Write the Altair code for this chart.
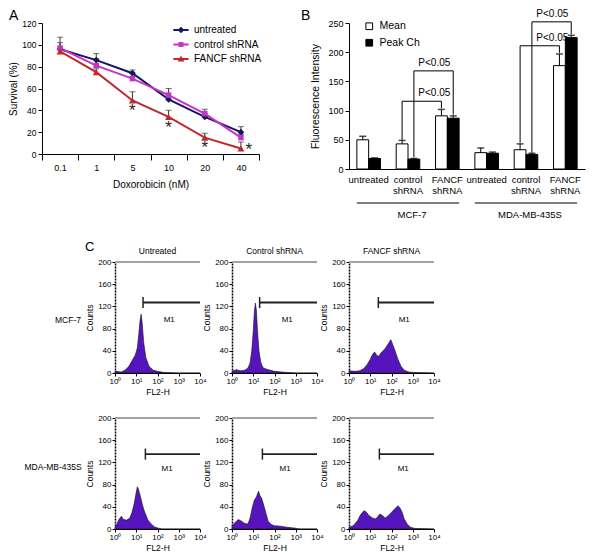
import altair as alt
import pandas as pd

FONT = "Liberation Sans"

# ================= Panel A: survival vs doxorubicin =================
doses = ["0.1", "1", "5", "10", "20", "40"]
series_names = ["untreated", "control shRNA", "FANCF shRNA"]
survival_untreated = [96, 86, 74, 50, 34, 20]
survival_control = [97, 81, 69, 54, 37, 15]
survival_fancf = [94, 75, 49, 34, 15, 5]
error_untreated = [6, 6, 3, 3, 3, 5]
error_control = [10, 6, 2, 6, 4, 3]
error_fancf = [3, 3, 8, 6, 4, 6]
star_doses = ["5", "10", "20"]
star_values = [40, 25, 6]
star_side_doses = ["40"]
star_side_values = [5]
survival_ticks = [0, 20, 40, 60, 80, 100, 120]

# ================= Panel B: fluorescence intensity =================
cell_lines = ["MCF-7", "MDA-MB-435S"]
treatments = ["untreated", "control shRNA", "FANCF shRNA"]
measures = ["Mean", "Peak Ch"]
mean_values = [50, 43, 91, 28, 33, 177]
mean_errors = [6, 6, 11, 8, 10, 20]
peak_values = [18, 17, 87, 27, 25, 225]
peak_errors = [1, 1, 4, 2, 2, 4]
bracket_cells = ["MCF-7", "MCF-7", "MDA-MB-435S", "MDA-MB-435S"]
bracket_measures = ["Mean", "Peak Ch", "Mean", "Peak Ch"]
bracket_tops = [116, 168, 211, 252]
bracket_left_ends = [50, 20, 45, 28]
bracket_right_ends = [104, 93, 199, 231]
bracket_labels = ["P<0.05", "P<0.05", "P<0.05", "P<0.05"]
intensity_ticks = [0, 50, 100, 150, 200, 250]

# ================= Panel C: flow cytometry histograms =================
column_titles = ["Untreated", "Control shRNA", "FANCF shRNA"]
row_labels = ["MCF-7", "MDA-MB-435S"]
decades = [0, 1, 2, 3, 4]
superscripts = ["⁰", "¹", "²", "³", "⁴"]
count_ticks = [0, 40, 80, 120, 160, 200]

mcf_untreated_x = [0.0, 0.3, 0.5, 0.65, 0.8, 0.95, 1.05, 1.12, 1.18, 1.23, 1.28, 1.35, 1.45, 1.6, 1.8, 2.0, 2.3, 3.0, 4.0]
mcf_untreated_y = [3, 2, 6, 12, 22, 32, 45, 70, 95, 106, 90, 55, 28, 12, 5, 3, 1, 0, 0]
mcf_control_x = [0.0, 0.2, 0.4, 0.6, 0.75, 0.85, 0.93, 1.0, 1.05, 1.1, 1.15, 1.2, 1.27, 1.35, 1.45, 1.6, 1.8, 2.0, 2.3, 2.6, 3.0, 4.0]
mcf_control_y = [3, 6, 4, 5, 9, 18, 40, 75, 110, 126, 112, 75, 40, 20, 10, 7, 5, 3, 2, 1, 0, 0]
mcf_fancf_x = [0.0, 0.3, 0.5, 0.7, 0.85, 1.0, 1.1, 1.2, 1.3, 1.4, 1.5, 1.6, 1.7, 1.8, 1.9, 1.97, 2.05, 2.15, 2.3, 2.45, 2.6, 2.8, 3.0, 4.0]
mcf_fancf_y = [4, 3, 4, 8, 15, 25, 33, 38, 32, 30, 36, 40, 44, 50, 56, 60, 52, 42, 25, 12, 5, 2, 1, 0]
mda_untreated_x = [0.0, 0.1, 0.2, 0.3, 0.4, 0.55, 0.7, 0.8, 0.9, 0.98, 1.05, 1.1, 1.2, 1.3, 1.4, 1.55, 1.7, 1.85, 2.0, 2.2, 4.0]
mda_untreated_y = [3, 10, 18, 23, 17, 16, 20, 30, 45, 62, 76, 72, 58, 42, 30, 16, 9, 4, 2, 0, 0]
mda_control_x = [0.0, 0.15, 0.3, 0.45, 0.6, 0.75, 0.85, 0.95, 1.05, 1.15, 1.25, 1.32, 1.4, 1.5, 1.6, 1.7, 1.85, 2.0, 2.3, 2.6, 2.9, 3.2, 4.0]
mda_control_y = [6, 12, 17, 14, 10, 9, 20, 38, 52, 58, 68, 60, 55, 42, 28, 14, 8, 6, 5, 3, 2, 0, 0]
mda_fancf_x = [0.0, 0.2, 0.4, 0.55, 0.7, 0.8, 0.95, 1.1, 1.25, 1.35, 1.45, 1.55, 1.7, 1.85, 2.0, 2.15, 2.3, 2.4, 2.5, 2.6, 2.75, 2.9, 3.1, 4.0]
mda_fancf_y = [3, 6, 15, 26, 33, 31, 24, 20, 18, 22, 27, 25, 20, 24, 30, 36, 42, 38, 30, 18, 8, 3, 1, 0]

m1_starts = [[1.32, 1.3, 1.38], [1.43, 1.43, 1.43]]
m1_levels = [127, 135]
m1_label_x = [[2.55, 2.6, 2.6], [2.45, 2.5, 2.55]]
m1_label_y = [95, 108]

# ================= styles =================
A_COLORS = ["#16165e", "#c634c6", "#c0282c"]
A_SHAPES = ["diamond", "square", "triangle-up"]
A_SIZES = [46, 30, 50]
BAR = "M-2.6,-0.32L2.6,-0.32L2.6,0.32L-2.6,0.32Z "
LEGEND_PATHS = [
    BAR + "M0,-1.15L1.15,0L0,1.15L-1.15,0Z",
    BAR + "M-0.85,-0.85L0.85,-0.85L0.85,0.85L-0.85,0.85Z",
    BAR + "M0,-1.2L1.15,0.85L-1.15,0.85Z",
]
PURPLE = "#5514bc"
A_WIDTH, A_HEIGHT = 217, 131
B_WIDTH, B_HEIGHT = 236, 146
AB_SPACING = 90
SPACER_WIDTH = 41


def text_layer(label, x, y, size, align="center"):
    return alt.Chart(pd.DataFrame({"t": [label]})).mark_text(
        fontSize=size, align=align, baseline="middle", color="black"
    ).encode(text="t:N", x=alt.value(x), y=alt.value(y))


# ---------------- Panel A ----------------
rows = []
for s, vals, errs in zip(series_names,
                         [survival_untreated, survival_control, survival_fancf],
                         [error_untreated, error_control, error_fancf]):
    for i, (d, v, e) in enumerate(zip(doses, vals, errs)):
        rows.append({"series": s, "dose": d, "idx": i, "value": v, "top": v + e})
df_a = pd.DataFrame(rows)

x_axis_a = alt.Axis(title="Doxorobicin (nM)", labelAngle=0, tickBand="extent", tickSize=6,
                    labelPadding=3, labelFontSize=9, titleFontSize=10, titlePadding=7)
x_a = alt.X("dose:N", scale=alt.Scale(type="band", domain=doses, paddingInner=0, paddingOuter=0),
            axis=x_axis_a)
y_axis_a = alt.Axis(title="Survival (%)", values=survival_ticks, tickSize=4, labelPadding=2,
                    labelFontSize=8.5, titleFontSize=10, titlePadding=3)
y_scale_a = alt.Scale(domain=[survival_ticks[0], survival_ticks[-1]], nice=False)
y_a = alt.Y("value:Q", scale=y_scale_a, axis=y_axis_a)
top_a = alt.Y("top:Q", scale=y_scale_a, axis=y_axis_a)
color_scale_a = alt.Scale(domain=series_names, range=A_COLORS)

base_a = alt.Chart(df_a)
err_a = base_a.mark_rule(color="#333333", strokeWidth=1).encode(x=x_a, y=y_a, y2=alt.Y2("top:Q"))
cap_a = base_a.mark_tick(color="#333333", thickness=1, size=6).encode(x=x_a, y=top_a)
line_layers = [
    base_a.transform_filter(alt.datum.series == s).mark_line(strokeWidth=2, color=c).encode(
        x=x_a, y=y_a, order=alt.Order("idx:Q"))
    for s, c in zip(series_names, A_COLORS)
]
point_layers = [
    base_a.transform_filter(alt.datum.series == s).mark_point(
        shape=sh, size=sz, filled=True, color=c, opacity=1).encode(x=x_a, y=y_a)
    for s, sh, sz, c in zip(series_names, A_SHAPES, A_SIZES, A_COLORS)
]
star_a = alt.Chart(pd.DataFrame({"dose": star_doses, "value": star_values})).mark_text(
    text="*", fontSize=17, color="#222222", dy=1).encode(x=x_a, y=y_a)
star_a2 = alt.Chart(pd.DataFrame({"dose": star_side_doses, "value": star_side_values})).mark_text(
    text="*", fontSize=17, color="#222222", dx=8, dy=1).encode(x=x_a, y=y_a)
leg_a = alt.Legend(title=None, orient="none", legendX=134, legendY=2, labelFontSize=10,
                   labelOffset=8, rowPadding=4.5, padding=0, symbolSize=34,
                   symbolStrokeWidth=0, labelColor="black")
legend_a = base_a.transform_filter("false").mark_point(
    filled=True, size=34, opacity=1, strokeWidth=0).encode(
    x=x_a, y=y_a,
    color=alt.Color("series:N", scale=color_scale_a, legend=leg_a),
    shape=alt.Shape("series:N", scale=alt.Scale(domain=series_names, range=LEGEND_PATHS), legend=leg_a))

chart_a = alt.layer(err_a, cap_a, *line_layers, *point_layers, star_a, star_a2, legend_a,
                    text_layer("A", -33, -7, 14, "left")).properties(width=A_WIDTH, height=A_HEIGHT)

# ---------------- Panel B ----------------
keys = [f"{c}|{t}" for c in cell_lines for t in treatments]
rows = []
for k, mv, me, pv, pe in zip(keys, mean_values, mean_errors, peak_values, peak_errors):
    rows.append({"key": k, "measure": measures[0], "value": mv, "top": mv + me})
    rows.append({"key": k, "measure": measures[1], "value": pv, "top": pv + pe})
df_b = pd.DataFrame(rows)

x_axis_b = alt.Axis(title=None, labelAngle=0, ticks=False, labelPadding=5, labelFontSize=9.5,
                    labelLineHeight=11, labelBaseline="top",
                    labelExpr="split(split(datum.label, '|')[1], ' ')")
x_scale_b = alt.Scale(domain=keys, paddingInner=0.4, paddingOuter=0.2)
x_b = alt.X("key:N", scale=x_scale_b, axis=x_axis_b)
xo_b = alt.XOffset("measure:N", scale=alt.Scale(domain=measures, paddingInner=0, paddingOuter=0))
y_axis_b = alt.Axis(title="Fluorescence Intensity", values=intensity_ticks, tickSize=4, labelPadding=2,
                    labelFontSize=9, titleFontSize=10.5, titlePadding=7)
y_scale_b = alt.Scale(domain=[intensity_ticks[0], intensity_ticks[-1]], nice=False)
y_b = alt.Y("value:Q", scale=y_scale_b, axis=y_axis_b)

# legends of a concatenated row are placed relative to the row's origin (panel A)
leg_b = alt.Legend(title=None, orient="none", legendX=A_WIDTH + AB_SPACING + 15, legendY=-2,
                   symbolType="square", symbolSize=45, symbolStrokeColor="black",
                   symbolStrokeWidth=1, labelFontSize=10.5, labelOffset=5, rowPadding=4.5,
                   padding=0, labelColor="black")
bars_b = alt.Chart(df_b).mark_bar(stroke="black", strokeWidth=1).encode(
    x=x_b, xOffset=xo_b, y=y_b,
    fill=alt.Fill("measure:N", scale=alt.Scale(domain=measures, range=["white", "black"]), legend=leg_b))
err_b = alt.Chart(df_b).mark_rule(color="black", strokeWidth=1).encode(
    x=x_b, xOffset=xo_b, y=y_b, y2=alt.Y2("top:Q"))
cap_b = alt.Chart(df_b).mark_tick(color="black", thickness=1.5, size=7).encode(
    x=x_b, xOffset=xo_b, y=alt.Y("top:Q", scale=y_scale_b, axis=y_axis_b))

br_rows = []
for b, (c, m, top, le, re_) in enumerate(zip(bracket_cells, bracket_measures, bracket_tops,
                                             bracket_left_ends, bracket_right_ends)):
    lk, rk = f"{c}|{treatments[1]}", f"{c}|{treatments[2]}"
    for o, (k, v) in enumerate([(lk, le), (lk, top), (rk, top), (rk, re_)]):
        br_rows.append({"b": b, "o": o, "key": k, "measure": m, "value": v})
df_br = pd.DataFrame(br_rows)
brackets_b = alt.Chart(df_br).mark_line(color="black", strokeWidth=1).encode(
    x=x_b, xOffset=xo_b, y=y_b, detail="b:N", order="o:Q")
df_pl = pd.DataFrame({"key": [f"{c}|{treatments[2]}" for c in bracket_cells],
                      "value": bracket_tops, "label": bracket_labels})
plab_b = alt.Chart(df_pl).mark_text(fontSize=10, dx=-13, dy=-8, color="black").encode(
    x=x_b, y=y_b, text="label:N")

df_cell = pd.DataFrame({"cell": cell_lines,
                        "start": [f"{c}|{treatments[0]}" for c in cell_lines],
                        "end": [f"{c}|{treatments[2]}" for c in cell_lines],
                        "mid": [f"{c}|{treatments[1]}" for c in cell_lines]})
cell_rule_b = alt.Chart(df_cell).mark_rule(color="black", strokeWidth=1).encode(
    x=alt.X("start:N", scale=x_scale_b, axis=x_axis_b, bandPosition=0),
    x2=alt.X2("end:N", bandPosition=1), y=alt.value(180))
cell_text_b = alt.Chart(df_cell).mark_text(fontSize=9.5, color="black", dx=4).encode(
    x=alt.X("mid:N", scale=x_scale_b, axis=x_axis_b), y=alt.value(192), text="cell:N")

chart_b = alt.layer(bars_b, err_b, cap_b, brackets_b, plab_b, cell_rule_b, cell_text_b,
                    text_layer("B", -48, -7, 14, "left")).properties(width=B_WIDTH, height=B_HEIGHT)

# ---------------- Panel C ----------------
label_expr_c = "'10' + [" + ",".join(f"'{s}'" for s in superscripts) + "][datum.value]"
x_axis_c = alt.Axis(title="FL2-H", values=decades, labelExpr=label_expr_c, tickSize=3,
                    labelPadding=1, labelFontSize=8, labelFlush=False, titleFontSize=8.5,
                    titlePadding=2)
y_axis_c = alt.Axis(title="Counts", values=count_ticks, tickSize=3, labelPadding=1,
                    labelFontSize=8, titleFontSize=8.5, titlePadding=3,
                    domainDash=[2, 1], domainWidth=1.5)
x_scale_c = alt.Scale(domain=[decades[0], decades[-1]], nice=False, zero=False)
y_scale_c = alt.Scale(domain=[count_ticks[0], count_ticks[-1]], nice=False)


def hist_panel(exps, counts, m1_start, m1_level, m1_lx, m1_ly, title=None):
    xc = alt.X("exp:Q", scale=x_scale_c, axis=x_axis_c)
    yc = alt.Y("count:Q", scale=y_scale_c, axis=y_axis_c)
    area = alt.Chart(pd.DataFrame({"exp": exps, "count": counts})).mark_area(
        color=PURPLE, stroke="#111111", strokeWidth=0.6, opacity=1).encode(x=xc, y=yc)
    frame = alt.Chart(pd.DataFrame({"exp": [decades[0]], "exp2": [decades[-1]],
                                    "count": [count_ticks[-1]]})).mark_rule(
        color="#a3a3a3", strokeWidth=2).encode(x=xc, x2="exp2:Q", y=yc)
    m1 = pd.DataFrame({"exp": [m1_start], "exp2": [decades[-1]], "count": [m1_level],
                       "lo": [m1_level - 10], "hi": [m1_level + 10]})
    m1_h = alt.Chart(m1).mark_rule(color="#222222", strokeWidth=1.8).encode(x=xc, x2="exp2:Q", y=yc)
    m1_v = alt.Chart(m1).mark_rule(color="#222222", strokeWidth=1.5).encode(
        x=xc, y=alt.Y("lo:Q", scale=y_scale_c, axis=y_axis_c), y2="hi:Q")
    m1_t = alt.Chart(pd.DataFrame({"exp": [m1_lx], "count": [m1_ly], "t": ["M1"]})).mark_text(
        fontSize=8, color="black").encode(x=xc, y=yc, text="t:N")
    ch = alt.layer(area, frame, m1_h, m1_v, m1_t).properties(width=85, height=111)
    if title:
        ch = ch.properties(title=alt.TitleParams(text=title, fontSize=8.5, fontWeight="normal",
                                                 offset=3, color="black"))
    return ch


def row_spacer(label, lx, ly, letter=None):
    layers = [text_layer(label, lx, ly, 8.5)]
    if letter:
        layers.append(text_layer(letter, 43, -15, 13, "left"))
    return alt.layer(*layers).properties(width=SPACER_WIDTH, height=111)


hist_x = [[mcf_untreated_x, mcf_control_x, mcf_fancf_x], [mda_untreated_x, mda_control_x, mda_fancf_x]]
hist_y = [[mcf_untreated_y, mcf_control_y, mcf_fancf_y], [mda_untreated_y, mda_control_y, mda_fancf_y]]

cells = [row_spacer(row_labels[0], 26, 58, "C")]
for j in range(3):
    cells.append(hist_panel(hist_x[0][j], hist_y[0][j], m1_starts[0][j], m1_levels[0],
                            m1_label_x[0][j], m1_label_y[0], column_titles[j]))
cells.append(row_spacer(row_labels[1], 11, 49))
for j in range(3):
    cells.append(hist_panel(hist_x[1][j], hist_y[1][j], m1_starts[1][j], m1_levels[1],
                            m1_label_x[1][j], m1_label_y[1]))

grid_c = alt.concat(*cells, columns=4, spacing={"row": 45, "column": 32},
                    bounds="flush", align="each")

ab = alt.hconcat(chart_a, chart_b, spacing=AB_SPACING, bounds="flush")

chart = alt.vconcat(ab, grid_c, spacing=21).properties(
    padding={"left": 0, "top": 0, "right": 2, "bottom": 0}
).configure(font=FONT).configure_view(strokeWidth=0).configure_axis(
    domainColor="black", tickColor="black", labelColor="black", titleColor="black",
    grid=False, titleFontWeight="normal", labelFont=FONT, titleFont=FONT
).configure_text(font=FONT).configure_legend(labelFont=FONT).configure_title(font=FONT)

chart.save("out.html", embed_options={"renderer": "svg", "actions": False})
